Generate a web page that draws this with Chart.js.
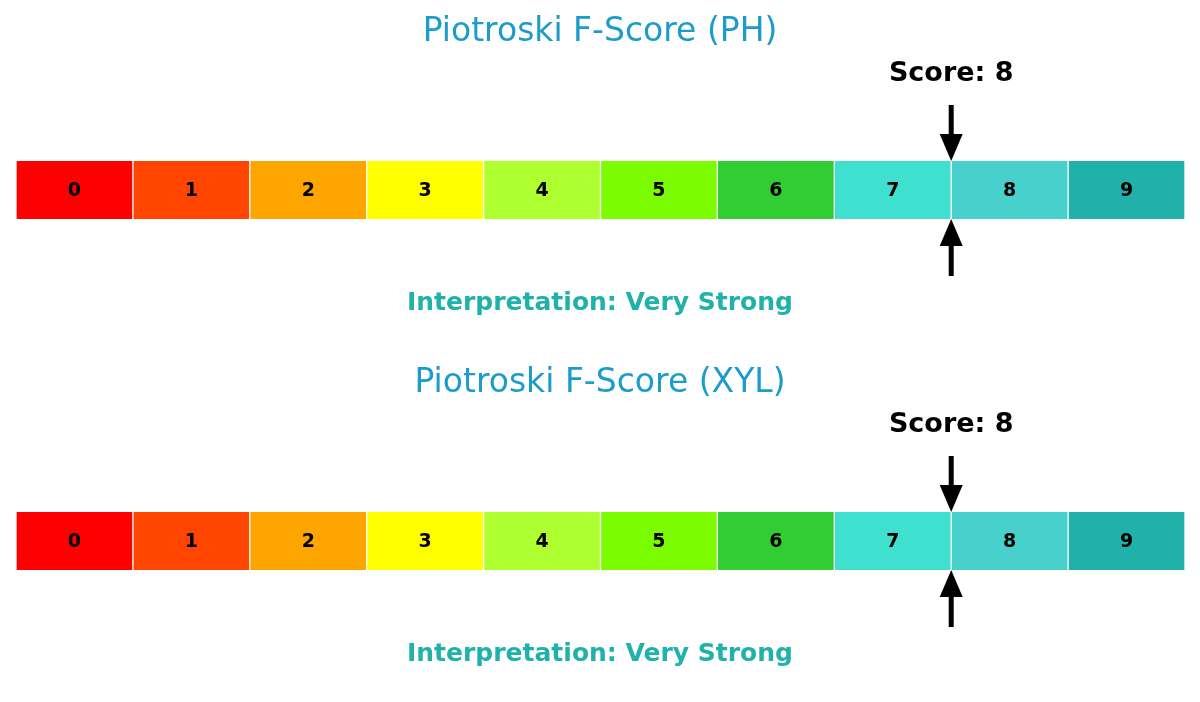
<!DOCTYPE html>
<html>
<head>
<meta charset="utf-8">
<script src="https://cdn.jsdelivr.net/npm/chart.js@4.4.0/dist/chart.umd.min.js"></script>
<style>
  html, body { margin: 0; padding: 0; background: #fff; }
  .panel { position: relative; width: 1200px; height: 351px; }
</style>
</head>
<body>
<div class="panel"><canvas id="chartPH"></canvas></div>
<div class="panel"><canvas id="chartXYL"></canvas></div>
<script>
// score bands 0..9
const bands = [0, 1, 2, 3, 4, 5, 6, 7, 8, 9];
const bandColors = ['#ff0000', '#ff4500', '#ffa500', '#ffff00', '#adff2f',
                    '#7cfc00', '#32cd32', '#40e0d0', '#48d1cc', '#20b2aa'];
const tickers = ['PH', 'XYL'];
const scores = [8, 8];
const interpretations = ['Very Strong', 'Very Strong'];

const FONT = '"DejaVu Sans", sans-serif';

// draws title, score marker, arrows, segment labels and interpretation
const gaugeOverlay = {
  id: 'gaugeOverlay',
  afterDraw(chart, args, opts) {
    const ctx = chart.ctx;
    const xs = chart.scales.x;
    const area = chart.chartArea;
    const cx = chart.width / 2;
    ctx.save();
    ctx.textAlign = 'center';
    ctx.textBaseline = 'middle';

    // segment labels
    ctx.fillStyle = '#000';
    ctx.font = 'bold 19px ' + FONT;
    bands.forEach(b => {
      ctx.fillText(String(b), xs.getPixelForValue(b + 0.5), (area.top + area.bottom) / 2 + 1);
    });

    // title
    ctx.fillStyle = '#1c9cca';
    ctx.font = '33px ' + FONT;
    ctx.fillText('Piotroski F-Score (' + opts.ticker + ')', cx, 32);

    // score label
    const sx = xs.getPixelForValue(opts.score);
    ctx.fillStyle = '#000';
    ctx.font = 'bold 27px ' + FONT;
    ctx.fillText('Score: ' + opts.score, sx, 74);

    // arrows
    const drawArrow = (x, yFrom, yTo) => {
      const dir = yTo > yFrom ? 1 : -1;
      const headLen = 27, headHalf = 11.5;
      ctx.strokeStyle = '#000';
      ctx.fillStyle = '#000';
      ctx.lineWidth = 5;
      ctx.beginPath();
      ctx.moveTo(x, yFrom);
      ctx.lineTo(x, yTo - dir * (headLen - 2));
      ctx.stroke();
      ctx.beginPath();
      ctx.moveTo(x, yTo);
      ctx.lineTo(x - headHalf, yTo - dir * headLen);
      ctx.lineTo(x + headHalf, yTo - dir * headLen);
      ctx.closePath();
      ctx.fill();
    };
    drawArrow(sx, area.top - 56, area.top);
    drawArrow(sx, area.bottom + 57, area.bottom);

    // interpretation
    ctx.fillStyle = '#20b2aa';
    ctx.font = 'bold 25px ' + FONT;
    ctx.fillText('Interpretation: ' + opts.interpretation, cx, 303);
    ctx.restore();
  }
};

function makeGauge(canvasId, idx) {
  return new Chart(document.getElementById(canvasId), {
    type: 'bar',
    data: {
      labels: [''],
      datasets: bands.map((b, i) => ({
        data: [[b, b + 1]],
        backgroundColor: bandColors[i],
        borderColor: '#ffffff',
        borderWidth: { left: 1, right: 1, top: 0, bottom: 0 },
        borderSkipped: false,
        barPercentage: 1,
        categoryPercentage: 1,
        grouped: false
      }))
    },
    options: {
      indexAxis: 'y',
      responsive: true,
      maintainAspectRatio: false,
      animation: false,
      layout: { padding: { left: 16, right: 15, top: 161, bottom: 132 } },
      plugins: {
        legend: { display: false },
        tooltip: { enabled: false },
        gaugeOverlay: {
          ticker: tickers[idx],
          score: scores[idx],
          interpretation: interpretations[idx]
        }
      },
      scales: {
        x: { type: 'linear', min: 0, max: 10, display: false },
        y: { display: false }
      }
    },
    plugins: [gaugeOverlay]
  });
}

makeGauge('chartPH', 0);
makeGauge('chartXYL', 1);
</script>
</body>
</html>
